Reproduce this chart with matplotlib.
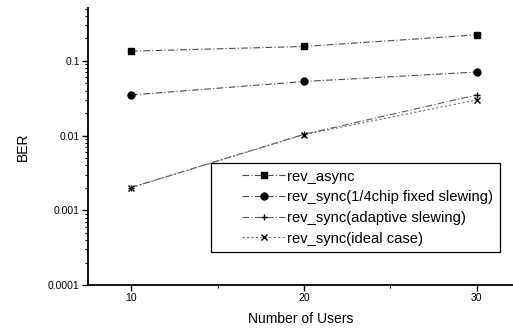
import matplotlib
matplotlib.use('Agg')
import matplotlib.pyplot as plt
from matplotlib.ticker import FixedLocator, FixedFormatter, LogLocator, NullFormatter
from matplotlib.legend_handler import HandlerLine2D

plt.rcParams['font.family'] = ['Liberation Sans', 'DejaVu Sans']

# data
users = [10, 20, 30]
rev_async = [0.135, 0.156, 0.223]
rev_sync_fixed = [0.035, 0.053, 0.071]
rev_sync_adaptive = [0.00202, 0.0104, 0.035]
rev_sync_ideal = [0.00202, 0.0103, 0.030]

labels = ['rev_async', 'rev_sync(1/4chip fixed slewing)',
          'rev_sync(adaptive slewing)', 'rev_sync(ideal case)']
yticks = [0.0001, 0.001, 0.01, 0.1]
ytick_labels = ['0.0001', '0.001', '0.01', '0.1']

fig = plt.figure(figsize=(5.13, 3.28), dpi=100)
ax = fig.add_axes([0.1715, 0.131, 0.8285, 0.8445])

ls = (0, (6, 2, 1, 2))
l1, = ax.plot(users, rev_async, color='0.3', ls=ls, lw=0.8, marker='s', ms=4.5,
              mfc='black', mec='black', label=labels[0])
l2, = ax.plot(users, rev_sync_fixed, color='0.3', ls=ls, lw=0.8, marker='o', ms=5,
              mfc='black', mec='black', label=labels[1])
l3, = ax.plot(users, rev_sync_adaptive, color='0.35', ls=ls, lw=0.8, marker='+', ms=5,
              mec='black', label=labels[2])
l4, = ax.plot(users, rev_sync_ideal, color='0.45', ls=(0, (2, 2)), lw=0.8, marker='x', ms=4,
              mec='black', label=labels[3])

ax.set_yscale('log')
ax.set_xlim(7.5, 32.1)
ax.set_ylim(0.0001, 0.51)

ax.xaxis.set_major_locator(FixedLocator(users))
ax.xaxis.set_minor_locator(FixedLocator([15, 25]))
ax.yaxis.set_major_locator(FixedLocator(yticks))
ax.yaxis.set_major_formatter(FixedFormatter(ytick_labels))
ax.yaxis.set_minor_locator(LogLocator(base=10, subs=range(2, 10)))
ax.yaxis.set_minor_formatter(NullFormatter())

ax.tick_params(which='major', length=4, width=1, labelsize=7.5, pad=2)
ax.tick_params(which='minor', length=2, width=0.8)

for s in ['top', 'right']:
    ax.spines[s].set_visible(False)
for s in ['left', 'bottom']:
    ax.spines[s].set_linewidth(1.3)

ax.set_xlabel('Number of Users', fontsize=10, labelpad=6)
ax.set_ylabel('BER', fontsize=10, labelpad=13)

hm = {l: HandlerLine2D(numpoints=1, xpad=1.7) for l in (l1, l2, l3, l4)}
leg = ax.legend(loc='upper right', bbox_to_anchor=(0.969, 0.44), fontsize=10.6,
                frameon=True, fancybox=False, edgecolor='black', framealpha=1,
                handlelength=4.6, handletextpad=0.15, labelspacing=0.45,
                borderpad=0.44, borderaxespad=0, handler_map=hm)
leg.get_frame().set_linewidth(0.9)

plt.savefig('out.png')
plt.close()
